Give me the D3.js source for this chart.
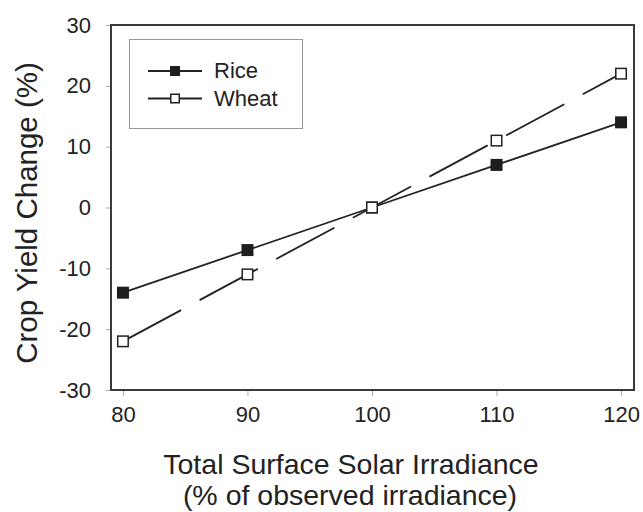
<!DOCTYPE html>
<html>
<head>
<meta charset="utf-8">
<script src="https://cdn.jsdelivr.net/npm/d3@7"></script>
<style>
  body { margin: 0; background: #fff; }
  text { font-family: "Liberation Sans", Arial, sans-serif; fill: #222; }
</style>
</head>
<body>
<div id="chart"></div>
<script>
let irradiance = [80, 90, 100, 110, 120];
let riceChange = [-14, -7, 0, 7, 14];
let wheatChange = [-22, -11, 0, 11, 22];
let xTicks = [80, 90, 100, 110, 120];
let yTicks = [-30, -20, -10, 0, 10, 20, 30];
let seriesNames = ['Rice', 'Wheat'];

let width = 643, height = 512;

let svg = d3.select('#chart').
append('svg').
attr('width', width).
attr('height', height);

let x = d3.scaleLinear().domain([79.04, 121.04]).range([111, 634]);
let y = d3.scaleLinear().domain([-30, 30]).range([390, 25]);

// axes (plain hyphen for negatives, like the original)
let xAxis = svg.append('g').
attr('transform', 'translate(0,390)').
call(d3.axisBottom(x).tickValues(xTicks).tickSize(6).tickPadding(10).tickFormat(d => String(d)));
xAxis.select('.domain').remove();
xAxis.selectAll('line').attr('stroke', '#aaa');
xAxis.selectAll('text').style('font-size', '22px').attr('fill', '#222');

let yAxis = svg.append('g').
attr('transform', 'translate(111,0)').
call(d3.axisLeft(y).tickValues(yTicks).tickSize(5).tickPadding(15).tickFormat(d => String(d)));
yAxis.select('.domain').remove();
yAxis.selectAll('line').attr('stroke', '#aaa');
yAxis.selectAll('text').style('font-size', '22px').attr('fill', '#222');

// frame
svg.append('rect').
attr('x', 111).
attr('y', 25).
attr('width', 523).
attr('height', 365).
attr('fill', 'none').
attr('stroke', '#3a3a3a').
attr('stroke-width', 2);

let line = d3.line().
x((d, i) => x(irradiance[i])).
y(d => y(d));

//rice line
svg.append('path').
attr('d', line(riceChange)).
attr('fill', 'none').
attr('stroke', '#222').
attr('stroke-width', 1.8);

//wheat line, long dashes
svg.append('path').
attr('d', line(wheatChange)).
attr('fill', 'none').
attr('stroke', '#222').
attr('stroke-width', 1.8).
attr('stroke-dasharray', '66,21');

let sq = 12;
svg.selectAll('.rice').
data(riceChange).
enter().
append('rect').
attr('class', 'rice').
attr('x', (d, i) => x(irradiance[i]) - sq / 2).
attr('y', d => y(d) - sq / 2).
attr('width', sq).
attr('height', sq).
attr('fill', '#1e1e1e');

svg.selectAll('.wheat').
data(wheatChange).
enter().
append('rect').
attr('class', 'wheat').
attr('x', (d, i) => x(irradiance[i]) - sq / 2 + 0.75).
attr('y', d => y(d) - sq / 2 + 0.75).
attr('width', sq - 1.5).
attr('height', sq - 1.5).
attr('fill', '#fff').
attr('stroke', '#222').
attr('stroke-width', 1.5);

//legend
let legend = svg.append('g').attr('id', 'legend');
legend.append('rect').
attr('x', 129.5).
attr('y', 39.5).
attr('width', 173).
attr('height', 89).
attr('fill', '#fff').
attr('stroke', '#999').
attr('stroke-width', 1);

seriesNames.forEach(function (name, i) {
  let ly = 71 + i * 27.5;
  legend.append('line').
  attr('x1', 148).
  attr('x2', 202).
  attr('y1', ly).
  attr('y2', ly).
  attr('stroke', '#222').
  attr('stroke-width', 1.8);
  let ms = 10;
  legend.append('rect').
  attr('x', 175 - ms / 2 + (i ? 0.75 : 0)).
  attr('y', ly - ms / 2 + (i ? 0.75 : 0)).
  attr('width', i ? ms - 1.5 : ms).
  attr('height', i ? ms - 1.5 : ms).
  attr('fill', i ? '#fff' : '#1e1e1e').
  attr('stroke', i ? '#222' : 'none').
  attr('stroke-width', 1.5);
  legend.append('text').
  attr('x', 214).
  attr('y', ly + 7).
  style('font-size', '22px').
  text(name);
});

//axis titles
svg.append('text').
attr('x', 351).
attr('y', 474).
attr('text-anchor', 'middle').
style('font-size', '28.5px').
text('Total Surface Solar Irradiance');

svg.append('text').
attr('x', 350).
attr('y', 505).
attr('text-anchor', 'middle').
style('font-size', '28.5px').
text('(% of observed irradiance)');

svg.append('text').
attr('transform', 'translate(37,213) rotate(-90)').
attr('text-anchor', 'middle').
style('font-size', '29.5px').
text('Crop Yield Change (%)');
</script>
</body>
</html>
